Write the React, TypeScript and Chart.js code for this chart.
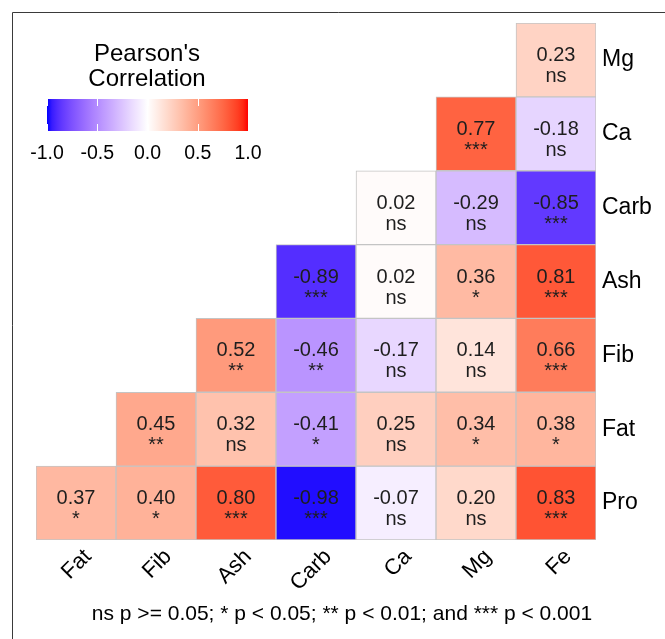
import React, { useEffect, useRef } from "react";
import { Chart, registerables } from "chart.js";

Chart.register(...registerables);

const xLabels = ["Fat", "Fib", "Ash", "Carb", "Ca", "Mg", "Fe"];
const yLabels = ["Mg", "Ca", "Carb", "Ash", "Fib", "Fat", "Pro"];

const rowMg = [null, null, null, null, null, null, 0.23];
const rowCa = [null, null, null, null, null, 0.77, -0.18];
const rowCarb = [null, null, null, null, 0.02, -0.29, -0.85];
const rowAsh = [null, null, null, -0.89, 0.02, 0.36, 0.81];
const rowFib = [null, null, 0.52, -0.46, -0.17, 0.14, 0.66];
const rowFat = [null, 0.45, 0.32, -0.41, 0.25, 0.34, 0.38];
const rowPro = [0.37, 0.4, 0.8, -0.98, -0.07, 0.2, 0.83];

const sigMg = ["", "", "", "", "", "", "ns"];
const sigCa = ["", "", "", "", "", "***", "ns"];
const sigCarb = ["", "", "", "", "ns", "ns", "***"];
const sigAsh = ["", "", "", "***", "ns", "*", "***"];
const sigFib = ["", "", "**", "**", "ns", "ns", "***"];
const sigFat = ["", "**", "ns", "*", "ns", "*", "*"];
const sigPro = ["*", "*", "***", "***", "ns", "ns", "***"];

const legendTicks = [-1.0, -0.5, 0.0, 0.5, 1.0];
const legendTitle = ["Pearson's", "Correlation"];
const footerText = "ns p >= 0.05; * p < 0.05; ** p < 0.01; and *** p < 0.001";

const rows: (number | null)[][] = [rowMg, rowCa, rowCarb, rowAsh, rowFib, rowFat, rowPro];
const sigs: string[][] = [sigMg, sigCa, sigCarb, sigAsh, sigFib, sigFat, sigPro];

const FONT = "'Liberation Sans', Arial, Helvetica, sans-serif";

// Lab interpolation (like ggplot2 gradient2)
const LAB_WHITE = [100, 0, 0];
const LAB_RED = [53.2408, 80.0925, 67.2032];
const LAB_BLUE = [32.297, 79.1875, -107.8602];

function labToRgb(L: number, a: number, b: number): string {
  const fy = (L + 16) / 116;
  const fx = fy + a / 500;
  const fz = fy - b / 200;
  const d = 6 / 29;
  const finv = (t: number) => (t > d ? t * t * t : 3 * d * d * (t - 4 / 29));
  const X = 0.95047 * finv(fx);
  const Y = 1.0 * finv(fy);
  const Z = 1.08883 * finv(fz);
  const r = 3.2404542 * X - 1.5371385 * Y - 0.4985314 * Z;
  const g = -0.969266 * X + 1.8760108 * Y + 0.041556 * Z;
  const bb = 0.0556434 * X - 0.2040259 * Y + 1.0572252 * Z;
  const gam = (c: number) => {
    const v = c <= 0.0031308 ? 12.92 * c : 1.055 * Math.pow(c, 1 / 2.4) - 0.055;
    return Math.round(Math.max(0, Math.min(1, v)) * 255);
  };
  return `rgb(${gam(r)},${gam(g)},${gam(bb)})`;
}

function corrColor(v: number): string {
  const t = Math.min(1, Math.abs(v));
  const end = v >= 0 ? LAB_RED : LAB_BLUE;
  return labToRgb(
    LAB_WHITE[0] + (end[0] - LAB_WHITE[0]) * t,
    LAB_WHITE[1] + (end[1] - LAB_WHITE[1]) * t,
    LAB_WHITE[2] + (end[2] - LAB_WHITE[2]) * t
  );
}

const cellTextPlugin = {
  id: "cellText",
  afterDatasetsDraw(chart: any) {
    const ctx = chart.ctx;
    ctx.save();
    ctx.fillStyle = "#1e1e1e";
    ctx.textAlign = "center";
    ctx.textBaseline = "alphabetic";
    ctx.font = `20px ${FONT}`;
    rows.forEach((row, ri) => {
      const meta = chart.getDatasetMeta(ri);
      row.forEach((v, ci) => {
        if (v === null) return;
        const el = meta.data[ci];
        if (!el) return;
        const cx = el.x;
        const cy = (el.y + el.base) / 2;
        ctx.fillText(v.toFixed(2), cx, cy + 1);
        ctx.fillText(sigs[ri][ci], cx, cy + 22);
      });
    });
    ctx.restore();
  },
};

const decorPlugin = {
  id: "decor",
  beforeDraw(chart: any) {
    const ctx = chart.ctx;
    ctx.save();
    ctx.fillStyle = "#ffffff";
    ctx.fillRect(0, 0, chart.width, chart.height);
    ctx.strokeStyle = "#3a3a3a";
    ctx.lineWidth = 1;
    ctx.beginPath();
    ctx.moveTo(12.5, chart.height);
    ctx.lineTo(12.5, 12.5);
    ctx.lineTo(chart.width, 12.5);
    ctx.stroke();
    ctx.restore();
  },
  afterDraw(chart: any) {
    const ctx = chart.ctx;
    ctx.save();
    // legend title
    ctx.fillStyle = "#000";
    ctx.textAlign = "center";
    ctx.textBaseline = "alphabetic";
    ctx.font = `24px ${FONT}`;
    ctx.fillText(legendTitle[0], 147, 61);
    ctx.fillText(legendTitle[1], 147, 86);
    // color bar
    const x0 = 47, x1 = 248, y0 = 99, y1 = 131;
    const grad = ctx.createLinearGradient(x0, 0, x1, 0);
    const n = 40;
    for (let i = 0; i <= n; i++) {
      const v = -1 + (2 * i) / n;
      grad.addColorStop(i / n, corrColor(v));
    }
    ctx.fillStyle = grad;
    ctx.fillRect(x0, y0, x1 - x0, y1 - y0);
    ctx.strokeStyle = "#ffffff";
    ctx.lineWidth = 1;
    ctx.font = `19.5px ${FONT}`;
    ctx.fillStyle = "#000";
    legendTicks.forEach((t) => {
      const x = x0 + ((t + 1) / 2) * (x1 - x0);
      const xs = Math.round(x) + 0.5;
      ctx.beginPath();
      ctx.moveTo(xs, y0);
      ctx.lineTo(xs, y0 + 7);
      ctx.moveTo(xs, y1 - 7);
      ctx.lineTo(xs, y1);
      ctx.stroke();
      ctx.fillText(t.toFixed(1), x, 159);
    });
    // footer
    ctx.font = `21px ${FONT}`;
    ctx.fillText(footerText, 342, 620);
    ctx.restore();
  },
};

export default function App() {
  const ref = useRef<HTMLCanvasElement | null>(null);
  useEffect(() => {
    if (!ref.current) return;
    const datasets = rows.map((row, ri) => ({
      label: yLabels[ri],
      data: row.map((v) => (v === null ? null : [ri - 0.5, ri + 0.5])),
      backgroundColor: row.map((v) => (v === null ? "transparent" : corrColor(v))),
      borderColor: "#c4c4c4",
      borderWidth: 1,
      borderSkipped: false,
      grouped: false,
      barPercentage: 1,
      categoryPercentage: 1,
    }));
    const chart = new Chart(ref.current, {
      type: "bar",
      data: { labels: xLabels, datasets: datasets as any },
      options: {
        animation: false,
        responsive: false,
        maintainAspectRatio: false,
        layout: { padding: { left: 36, top: 23, right: 0, bottom: 0 } },
        plugins: {
          legend: { display: false },
          tooltip: { enabled: false },
          title: { display: false },
        },
        scales: {
          x: {
            type: "category",
            offset: true,
            grid: { display: false, drawTicks: false },
            border: { display: false },
            ticks: {
              color: "#000",
              font: { family: FONT, size: 22 },
              minRotation: 45,
              maxRotation: 45,
              padding: 4,
              labelOffset: 12,
              autoSkip: false,
            },
            afterFit(scale: any) {
              scale.height = 99;
            },
          },
          y: {
            type: "linear",
            position: "right",
            reverse: true,
            min: -0.5,
            max: 6.5,
            grid: { display: false, drawTicks: false },
            border: { display: false },
            afterBuildTicks(scale: any) {
              scale.ticks = yLabels.map((_, i) => ({ value: i }));
            },
            ticks: {
              color: "#000",
              font: { family: FONT, size: 23 },
              padding: 6,
              autoSkip: false,
              callback: (val: any) => yLabels[Math.round(Number(val))] ?? "",
            },
            afterFit(scale: any) {
              scale.width = 69;
            },
          },
        },
      },
      plugins: [decorPlugin, cellTextPlugin],
    });
    return () => chart.destroy();
  }, []);
  return (
    <div style={{ position: "fixed", left: 0, top: 0, width: 665, height: 639, background: "#fff" }}>
      <canvas ref={ref} width={665} height={639} style={{ display: "block", width: 665, height: 639 }} />
    </div>
  );
}
